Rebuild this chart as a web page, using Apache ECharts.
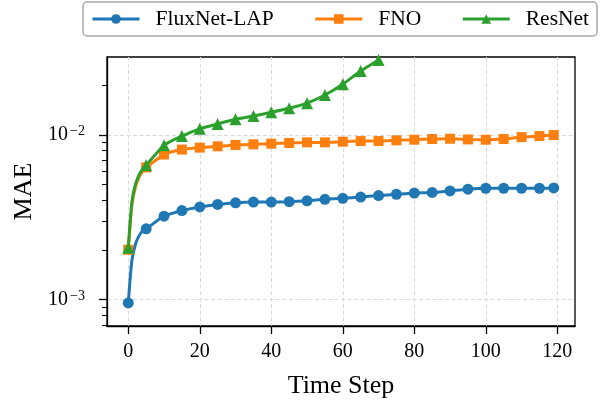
<!DOCTYPE html>
<html><head><meta charset="utf-8">
<script src="https://cdn.jsdelivr.net/npm/echarts@6/dist/echarts.min.js"></script>
<style>html,body{margin:0;padding:0;background:#fff}#c{width:602px;height:404px}</style>
</head><body><div id="c"></div>
<script>
// ---- data ----
const steps = [0,1,2,3,4,5,10,15,20,25,30,35,40,45,50,55,60,65,70,75,80,85,90,95,100,105,110,115,119];
const markerSteps = [0,5,10,15,20,25,30,35,40,45,50,55,60,65,70,75,80,85,90,95,100,105,110,115,119];
const fluxnetLAP = [9.5e-4,1.72e-3,2.16e-3,2.43e-3,2.60e-3,2.68e-3,3.20e-3,3.46e-3,3.64e-3,3.77e-3,3.86e-3,3.90e-3,3.90e-3,3.92e-3,3.97e-3,4.05e-3,4.11e-3,4.18e-3,4.27e-3,4.35e-3,4.42e-3,4.46e-3,4.56e-3,4.67e-3,4.73e-3,4.73e-3,4.73e-3,4.73e-3,4.75e-3];
const fno = [2.0e-3,3.7e-3,4.8e-3,5.5e-3,6.0e-3,6.33e-3,7.58e-3,8.13e-3,8.35e-3,8.51e-3,8.67e-3,8.75e-3,8.83e-3,8.91e-3,8.99e-3,8.99e-3,9.08e-3,9.16e-3,9.16e-3,9.25e-3,9.33e-3,9.42e-3,9.46e-3,9.37e-3,9.33e-3,9.42e-3,9.68e-3,9.82e-3,9.96e-3];
const resnet = [2.06e-3,3.9e-3,5.0e-3,5.7e-3,6.2e-3,6.53e-3,8.63e-3,9.82e-3,1.087e-2,1.164e-2,1.242e-2,1.30e-2,1.369e-2,1.448e-2,1.557e-2,1.746e-2,2.03e-2,2.44e-2,2.85e-2];
const xTicks = [0,20,40,60,80,100,120];
const yMajorTicks = [1e-3,1e-2];
const yMinorTicks = [7e-4,8e-4,9e-4,2e-3,3e-3,4e-3,5e-3,6e-3,7e-3,8e-3,9e-3,2e-2];
const seriesNames = ['FluxNet-LAP','FNO','ResNet'];
// ----------------

const FONT = 'Liberation Serif';
const colors = ['#1f77b4','#ff7f0e','#2ca02c'];
const symbols = ['circle','rect','triangle'];
const symSizes = [11,10,12];
const values = [fluxnetLAP, fno, resnet];

function buildData(vals, sym){
  return vals.map((v,i)=>({value:[steps[i], v], symbol: markerSteps.includes(steps[i]) ? sym : 'none'}));
}
function supLabel(v){
  const e = Math.round(Math.log10(v));
  return '{b|10}{sup|−' + Math.abs(e) + '}';
}

const chart = echarts.init(document.getElementById('c'), null, {renderer:'canvas'});
const axisLineStyle = {color:'#000', width:1.3};
chart.setOption({
  animation:false,
  backgroundColor:'#fff',
  color: colors,
  textStyle:{fontFamily:FONT},
  legend:{
    left:83, top:2, width:600, orient:'horizontal',
    padding:[6,8,6,8],
    itemWidth:47, itemHeight:12, itemGap:40,
    borderColor:'#a8a8a8', borderWidth:1.5, borderRadius:4,
    lineStyle:{width:3},
    textStyle:{fontFamily:FONT, fontSize:21.5, color:'#000', padding:[0,0,0,11]},
    data: seriesNames
  },
  grid:{left:107, right:27, top:57, bottom:74, show:true, borderColor:'#000', borderWidth:1.3, backgroundColor:'transparent'},
  xAxis:{
    type:'value', min:-5.95, max:124.95,
    name:'Time Step', nameLocation:'middle', nameGap:47,
    nameTextStyle:{fontFamily:FONT, fontSize:26, color:'#000'},
    axisLine:{show:true, onZero:false, lineStyle:axisLineStyle},
    axisTick:{show:true, inside:false, length:8, lineStyle:{color:'#000', width:1.3}, customValues:xTicks},
    axisLabel:{show:true, customValues:xTicks, margin:16, fontFamily:FONT, fontSize:20, color:'#000'},
    splitLine:{show:true, lineStyle:{color:'#dadada', width:1, type:[4,2.5]}}
  },
  yAxis:[{
    type:'log', logBase:10, min:6.88e-4, max:2.97e-2,
    name:'MAE', nameLocation:'middle', nameGap:67,
    nameTextStyle:{fontFamily:FONT, fontSize:26, color:'#000'},
    axisLine:{show:true, onZero:false, lineStyle:axisLineStyle},
    axisTick:{show:true, length:8, lineStyle:{color:'#000', width:1.3}, customValues:yMajorTicks},
    axisLabel:{show:true, customValues:yMajorTicks, margin:22, fontFamily:FONT, fontSize:20, color:'#000',
      formatter: supLabel,
      rich:{
        b:{fontFamily:FONT, fontSize:20, lineHeight:20, color:'#000', verticalAlign:'bottom', padding:[11,0,0,0]},
        sup:{fontFamily:FONT, fontSize:14, lineHeight:14, color:'#000', verticalAlign:'top', padding:[0,0,0,2]}
      }},
    splitLine:{show:true, lineStyle:{color:'#dadada', width:1, type:[4,2.5]}}
  },{
    type:'log', logBase:10, min:6.88e-4, max:2.97e-2, position:'left',
    axisLine:{show:false, onZero:false},
    axisTick:{show:true, length:5, lineStyle:{color:'#000', width:1.1}, customValues:yMinorTicks},
    axisLabel:{show:false},
    splitLine:{show:false}
  }],
  series: seriesNames.map((n,k)=>({
    name:n, type:'line', yAxisIndex:0,
    data: buildData(values[k], symbols[k]),
    symbol: symbols[k], symbolSize: symSizes[k], showSymbol:true,
    smooth:0.2,
    lineStyle:{width:3, color:colors[k]},
    itemStyle:{color:colors[k]},
    clip:true, z: 3+k
  }))
});
</script></body></html>
